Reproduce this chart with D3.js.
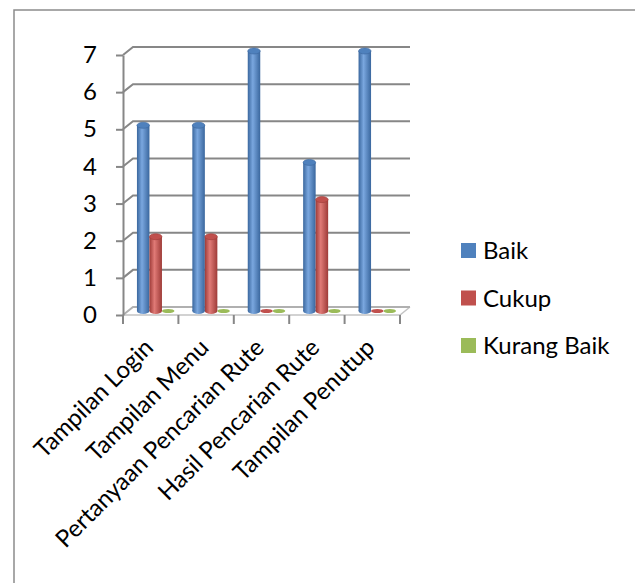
<!DOCTYPE html>
<html>
<head>
<meta charset="utf-8">
<script src="https://cdn.jsdelivr.net/npm/d3@7/dist/d3.min.js"></script>
<style>
  body { margin: 0; background: #fff; }
  text { font-family: Lato, "Noto Sans", sans-serif; fill: #000; }
</style>
</head>
<body>
<div id="chart"></div>
<script>
// data
const categories = ["Tampilan Login", "Tampilan Menu", "Pertanyaan Pencarian Rute", "Hasil Pencarian Rute", "Tampilan Penutup"]
const seriesNames = ["Baik", "Cukup", "Kurang Baik"]
const baik = [5, 5, 7, 4, 7]
const cukup = [2, 2, 0, 3, 0]
const kurangBaik = [0, 0, 0, 0, 0]
const yTicks = [0, 1, 2, 3, 4, 5, 6, 7]

const seriesValues = [baik, cukup, kurangBaik]
const colors = {
  "Baik": ["#3a679e", "#7aa7df", "#4f81bd"],
  "Cukup": ["#9e3b38", "#e07a76", "#c0504d"],
  "Kurang Baik": ["#7c9a44", "#bcd684", "#9bbb59"]
}

const width = 635
const height = 583
// depth of the fake 3d
const depthX = 10
const depthY = -8
const fontSize = 24

const svg = d3.select("#chart")
  .append("svg")
  .attr("width", width)
  .attr("height", height)

const defs = svg.append("defs")
seriesNames.forEach((s, i) => {
  const g = defs.append("linearGradient").attr("id", "grad" + i)
    .attr("x1", "0%").attr("x2", "100%").attr("y1", "0%").attr("y2", "0%")
  g.append("stop").attr("offset", "0%").attr("stop-color", colors[s][0])
  g.append("stop").attr("offset", "40%").attr("stop-color", colors[s][1])
  g.append("stop").attr("offset", "100%").attr("stop-color", colors[s][0])
})

// border of the chart area
svg.append("path")
  .attr("d", `M14,${height} L14,10 L${width},10`)
  .attr("fill", "none")
  .attr("stroke", "#8c8c8c")
  .attr("stroke-width", 1.5)

// scales
const x0 = d3.scaleBand().domain(categories).range([123, 400])
const groupW = 37.5
const x1 = d3.scaleBand().domain(seriesNames).range([0, groupW])
const y = d3.scaleLinear().domain([0, 7]).range([315, 55])

const plot = svg.append("g")

// floor
plot.append("path")
  .attr("d", `M${x0.range()[0]},${y(0)} L${x0.range()[1]},${y(0)} L${x0.range()[1] + depthX},${y(0) + depthY}`)
  .attr("fill", "none")
  .attr("stroke", "#c4c4c4")
  .attr("stroke-width", 1.5)

// gridlines
plot.selectAll(".grid").data(yTicks).enter()
  .append("path")
  .attr("class", "grid")
  .attr("d", d => `M${x0.range()[0]},${y(d)} L${x0.range()[0] + depthX},${y(d) + depthY} L${x0.range()[1] + depthX},${y(d) + depthY}`)
  .attr("fill", "none")
  .attr("stroke", d => d === 0 ? "#b0b0b0" : "#878787")
  .attr("stroke-width", 2)

// y axis
const yAxisGroup = svg.append("g")
  .attr("transform", `translate(${x0.range()[0]},0)`)
  .call(d3.axisLeft(y).tickValues(yTicks).tickFormat(d3.format("d")).tickSize(7).tickSizeOuter(0).tickPadding(19))
yAxisGroup.select(".domain").attr("stroke", "#878787").attr("stroke-width", 2)
yAxisGroup.selectAll(".tick line").attr("stroke", "#878787").attr("stroke-width", 2)
yAxisGroup.selectAll("text").attr("font-size", fontSize).attr("fill", "#000")
  .style("font-family", "Lato, 'Noto Sans', sans-serif")

// x axis ticks on category edges
const edges = categories.map(c => x0(c)).concat([x0.range()[1]])
svg.selectAll(".xtick").data(edges).enter()
  .append("line")
  .attr("x1", d => d).attr("x2", d => d)
  .attr("y1", y(0)).attr("y2", y(0) + 9)
  .attr("stroke", "#878787").attr("stroke-width", 2)

svg.selectAll(".xlabel").data(categories).enter()
  .append("text")
  .attr("class", "xlabel")
  .attr("text-anchor", "end")
  .attr("font-size", fontSize)
  .attr("transform", d => `translate(${x0(d) + x0.bandwidth() / 2 + 4},${y(0) + 34}) rotate(-45)`)
  .text(d => d)

// bars as cylinders
const bars = []
categories.forEach((c, ci) => {
  seriesNames.forEach((s, si) => {
    bars.push({ cat: c, series: s, si: si, value: seriesValues[si][ci] })
  })
})
const offset = (x0.bandwidth() - groupW) / 2
const bx = d => x0(d.cat) + offset + x1(d.series) + depthX / 2
const bw = x1.bandwidth()
const ry = 3

const barG = plot.selectAll(".bar").data(bars).enter().append("g").attr("class", "bar")

barG.filter(d => d.value > 0).append("rect")
  .attr("x", d => bx(d))
  .attr("y", d => y(d.value) + depthY / 2)
  .attr("width", bw)
  .attr("height", d => y(0) - y(d.value))
  .attr("fill", d => `url(#grad${d.si})`)

barG.append("ellipse")
  .attr("cx", d => bx(d) + bw / 2)
  .attr("cy", y(0) + depthY / 2)
  .attr("rx", bw / 2)
  .attr("ry", d => d.value > 0 ? ry : 2)
  .attr("fill", d => d.value > 0 ? `url(#grad${d.si})` : colors[d.series][2])

barG.filter(d => d.value > 0).append("ellipse")
  .attr("cx", d => bx(d) + bw / 2)
  .attr("cy", d => y(d.value) + depthY / 2)
  .attr("rx", bw / 2)
  .attr("ry", ry)
  .attr("fill", d => colors[d.series][2])
  .attr("stroke", d => colors[d.series][0])
  .attr("stroke-width", 0.6)

// legend
const legend = svg.selectAll(".legend").data(seriesNames).enter()
  .append("g")
  .attr("class", "legend")
  .attr("transform", (d, i) => `translate(461,${243 + i * 47.5})`)

legend.append("rect")
  .attr("width", 15).attr("height", 15)
  .attr("fill", d => colors[d][2])

legend.append("text")
  .attr("x", 22).attr("y", 16)
  .attr("font-size", fontSize)
  .text(d => d)
</script>
</body>
</html>
